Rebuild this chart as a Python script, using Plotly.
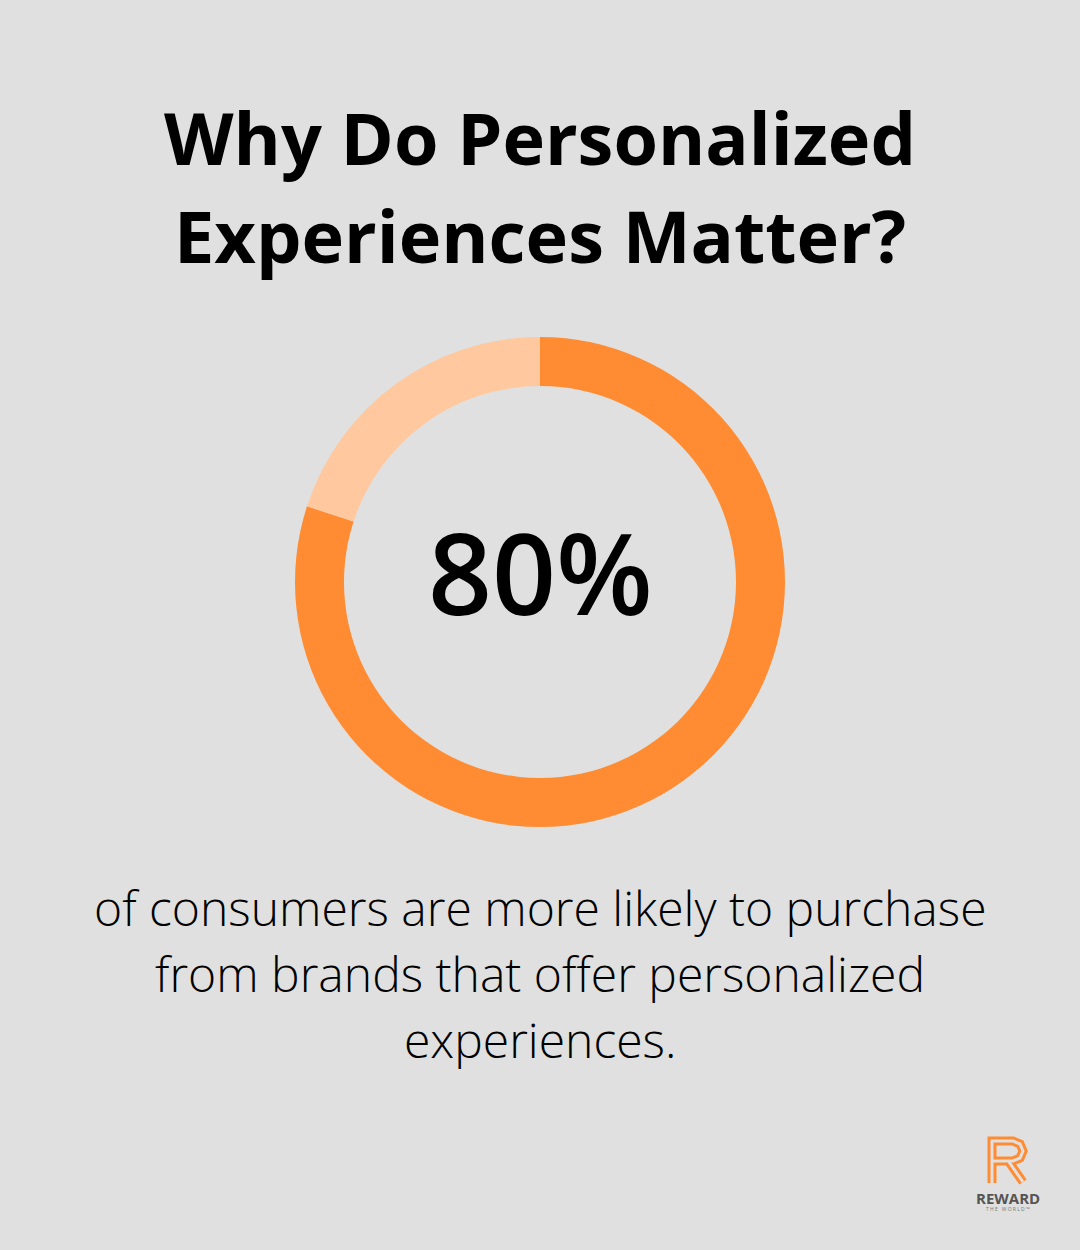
import plotly.graph_objects as go

labels = ["More likely to purchase", "Other"]
values = [80, 20]
colors = ["#FF8C33", "#FFC89E"]
title_lines = ["Why Do Personalized", "Experiences Matter?"]
big_stat = "80%"
body_lines = ["of consumers are more likely to purchase",
              "from brands that offer personalized",
              "experiences."]

W, H = 1080, 1250
BG = "#DFE0DF"

def px(x):
    return x / W

def py(y):
    return 1 - y / H

fig = go.Figure()
fig.add_trace(go.Pie(
    labels=labels, values=values, hole=0.8, sort=False, direction="clockwise",
    rotation=0, marker=dict(colors=colors, line=dict(width=0)),
    textinfo="none", hoverinfo="label+percent", showlegend=False,
    domain=dict(x=[px(295), px(785)], y=[py(827), py(337)]),
))

ann = []
for i, t in enumerate(title_lines):
    ann.append(dict(text=t, x=0.5, y=py(137 + i * 98), xref="paper", yref="paper",
                    showarrow=False, xanchor="center", yanchor="middle",
                    font=dict(family="Open Sans", size=72, color="#000000", weight=700)))
ann.append(dict(text=big_stat, x=0.5, y=py(571), xref="paper", yref="paper",
                showarrow=False, xanchor="center", yanchor="middle",
                font=dict(family="Open Sans", size=112, color="#000000", weight=600)))
for i, t in enumerate(body_lines):
    ann.append(dict(text=t, x=0.5, y=py(907 + i * 66), xref="paper", yref="paper",
                    showarrow=False, xanchor="center", yanchor="middle",
                    font=dict(family="Open Sans", size=48, color="#000000", weight=300)))
ann.append(dict(text="REWARD", x=px(1008), y=py(1198), xref="paper", yref="paper",
                showarrow=False, xanchor="center", yanchor="middle",
                font=dict(family="Open Sans", size=15, color="#555555", weight=700)))
ann.append(dict(text="T H E   W O R L D ™", x=px(1008), y=py(1209), xref="paper", yref="paper",
                showarrow=False, xanchor="center", yanchor="middle",
                font=dict(family="Open Sans", size=5, color="#777777")))

# Logo "R" as paths
def P(pts):
    s = ""
    for j, (x, y) in enumerate(pts):
        s += ("M" if j == 0 else "L") + f"{px(x)},{py(y)} "
    return s

r_path = P([(992, 1183), (992, 1141), (1013, 1141), (1020, 1144), (1023, 1151),
            (1020, 1158), (1013, 1161), (992, 1161)]) + P([(1009, 1162), (1023, 1182)])
shapes = []
for wdt, col in [(9, "#FF8C33"), (3, BG)]:
    shapes.append(dict(type="path", path=r_path, xref="paper", yref="paper",
                       line=dict(color=col, width=wdt)))

fig.update_layout(
    width=W, height=H, margin=dict(l=0, r=0, t=0, b=0),
    paper_bgcolor=BG, plot_bgcolor=BG,
    annotations=ann, shapes=shapes,
)
fig.write_html("out.html")
